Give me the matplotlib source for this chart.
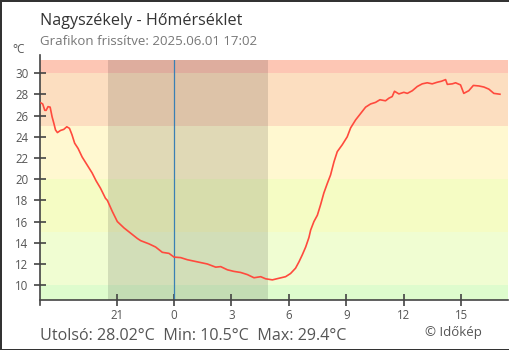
import matplotlib
matplotlib.use("Agg")
import matplotlib.pyplot as plt

plt.rcParams['font.family'] = ['Open Sans', 'DejaVu Sans']

# hours relative to midnight (negative = previous evening)
hours = [-6.95, -6.86, -6.75, -6.68, -6.58, -6.47, -6.37, -6.28, -6.19, -6.09,
         -5.93, -5.76, -5.60, -5.46, -5.33, -5.19, -5.01, -4.80, -4.54, -4.28,
         -4.07, -3.84, -3.58, -3.48, -3.22, -2.96, -2.61, -2.26, -1.91, -1.74,
         -1.31, -0.96, -0.61, -0.26, 0.00, 0.35, 0.70, 1.22, 1.74, 2.18,
         2.44, 2.79, 3.13, 3.48, 3.83, 4.18, 4.53, 4.79, 5.14, 5.48,
         5.83, 6.09, 6.35, 6.53, 6.70, 6.88, 7.05, 7.14, 7.31, 7.49,
         7.66, 7.83, 8.01, 8.18, 8.36, 8.53, 8.79, 9.05, 9.23, 9.49,
         9.75, 10.01, 10.27, 10.53, 10.76, 11.05, 11.23, 11.40, 11.52, 11.75,
         12.01, 12.19, 12.45, 12.71, 12.97, 13.23, 13.49, 13.75, 13.98, 14.19,
         14.28, 14.54, 14.71, 14.97, 15.14, 15.40, 15.64, 15.93, 16.19, 16.45,
         16.71, 17.03]
temps = [27.2, 27.1, 26.5, 26.5, 26.85, 26.8, 25.9, 25.3, 24.65, 24.4,
         24.6, 24.7, 24.95, 24.8, 24.2, 23.4, 22.9, 22.1, 21.35, 20.6,
         19.85, 19.15, 18.2, 18.0, 16.95, 16.0, 15.4, 14.9, 14.4, 14.2,
         13.9, 13.6, 13.1, 13.0, 12.65, 12.6, 12.4, 12.2, 12.0, 11.7,
         11.75, 11.45, 11.3, 11.2, 11.0, 10.7, 10.8, 10.6, 10.5, 10.65,
         10.8, 11.1, 11.6, 12.2, 12.85, 13.6, 14.5, 15.2, 16.0, 16.6,
         17.6, 18.7, 19.6, 20.4, 21.65, 22.6, 23.25, 24.0, 24.85, 25.6,
         26.2, 26.8, 27.1, 27.25, 27.5, 27.4, 27.65, 27.8, 28.3, 28.05,
         28.2, 28.1, 28.35, 28.75, 29.0, 29.1, 29.0, 29.15, 29.25, 29.4,
         28.95, 29.0, 29.1, 28.9, 28.1, 28.35, 28.85, 28.8, 28.7, 28.5,
         28.1, 28.02]

# temperature bands (lower, upper, colour)
band_edges = [-50, 10, 15, 20, 25, 30, 50]
band_colors = ['#defccd', '#f0fdd2', '#f5fcc4', '#fff8d0', '#fcdec0', '#fdc6b4']

sunset, sunrise = -3.46, 4.89
tick_pos = [-3, 0, 3, 6, 9, 12, 15]
tick_lab = ['21', '0', '3', '6', '9', '12', '15']

fig = plt.figure(figsize=(5.1, 3.5), dpi=100)
fig.patch.set_edgecolor('#333333')
fig.patch.set_linewidth(2)
ax = fig.add_axes([40 / 510, 50 / 350, 468 / 510, 240 / 350])

for lo, hi, c in zip(band_edges[:-1], band_edges[1:], band_colors):
    ax.axhspan(lo, hi, color=c, lw=0, zorder=0)
ax.axvspan(sunset, sunrise, color='black', alpha=0.12, lw=0, zorder=1)
ax.axvline(0, color='#3a80b4', lw=0.9, zorder=2)

ax.plot(hours, temps, color='#ff4a3d', lw=1.2, zorder=3)

ax.set_xlim(-7, 17.45)
ax.set_ylim(8.6, 31.25)
ax.set_yticks(range(10, 31, 2))
ax.set_xticks(tick_pos)
ax.set_xticklabels(tick_lab)
for s in ['top', 'right']:
    ax.spines[s].set_visible(False)
for s in ['left', 'bottom']:
    ax.spines[s].set_color('#444444')
    ax.spines[s].set_linewidth(1.2)
ax.spines['left'].set_bounds(8.1, 31.75)
ax.tick_params(direction='inout', length=8.5, width=1.2, color='#444444',
               labelcolor='#555555', labelsize=8.3)
ax.tick_params(axis='y', pad=4)
ax.tick_params(axis='x', pad=2)

fig.text(40 / 510, 1 - 25 / 350, 'Nagyszékely - Hőmérséklet', fontsize=11.6, color='#333333')
fig.text(40 / 510, 1 - 45 / 350, 'Grafikon frissítve: 2025.06.01 17:02', fontsize=9.5, color='#777777')
fig.text(12 / 510, 1 - 53 / 350, '°C', fontsize=8.5, color='#555555')
fig.text(40 / 510, 1 - 340 / 350, 'Utolsó: 28.02°C  Min: 10.5°C  Max: 29.4°C', fontsize=11.6, color='#555555')
fig.text(425 / 510, 1 - 336 / 350, '© Időkép', fontsize=9.5, color='#555555')

fig.savefig('out.png', dpi=100)
